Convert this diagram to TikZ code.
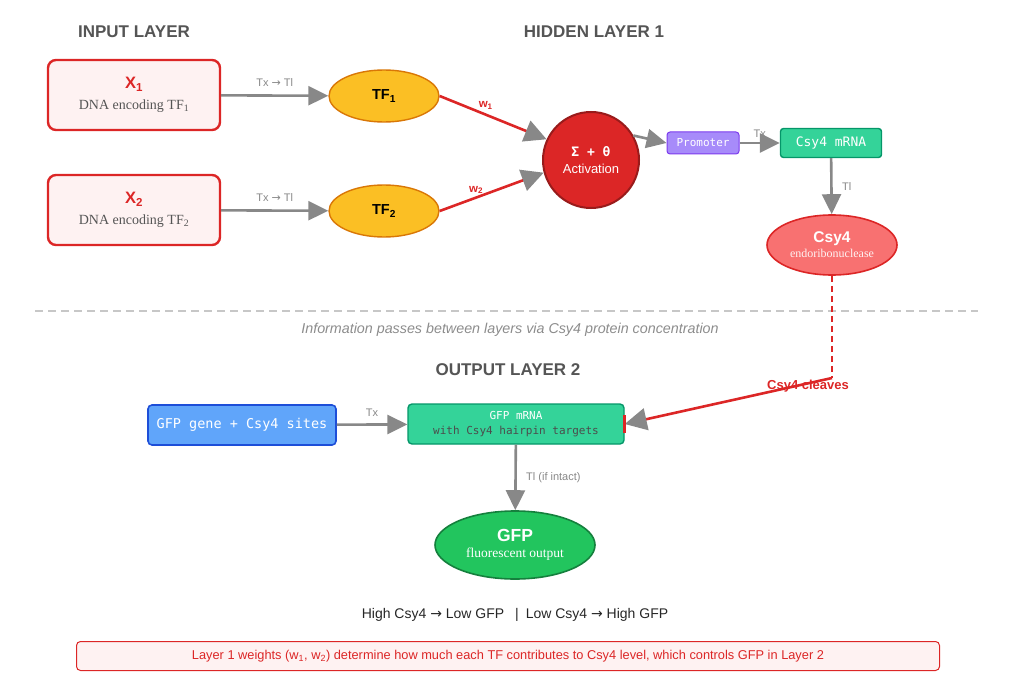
\documentclass[tikz,border=0pt]{standalone}
\usepackage{fontspec}
\setmainfont{Liberation Serif}
\setsansfont{Liberation Sans}
\setmonofont{DejaVu Sans Mono}
\newfontfamily\symf{DejaVu Sans}
\usetikzlibrary{arrows.meta,shapes.geometric}
\definecolor{rd}{HTML}{DC2626}
\definecolor{dr}{HTML}{991B1B}
\definecolor{pk}{HTML}{FEF2F2}
\definecolor{yl}{HTML}{FBBF24}
\definecolor{og}{HTML}{D97706}
\definecolor{pu}{HTML}{A78BFA}
\definecolor{pud}{HTML}{7C3AED}
\definecolor{gr}{HTML}{34D399}
\definecolor{grd}{HTML}{059669}
\definecolor{lr}{HTML}{F87171}
\definecolor{bl}{HTML}{60A5FA}
\definecolor{bld}{HTML}{1D4ED8}
\definecolor{gg}{HTML}{22C55E}
\definecolor{ggd}{HTML}{15803D}
\definecolor{ar}{HTML}{888888}
\definecolor{tx}{HTML}{555555}
\begin{document}
\begin{tikzpicture}[x=1pt,y=-1pt,
 inbox/.style={draw=rd,line width=2.4pt,fill=pk,rounded corners=8pt,minimum width=172pt,minimum height=70pt,align=center,font=\fontsize{14}{21}\selectfont\color{tx}},
 tf/.style={ellipse,draw=og,line width=1.4pt,fill=yl,minimum width=110pt,minimum height=52pt,font=\sffamily\bfseries\fontsize{14.5}{16}\selectfont},
 arr/.style={draw=ar,line width=2.6pt,-{Triangle[length=20pt,width=19pt]}},
 warr/.style={draw=rd,line width=2.6pt,-{Triangle[length=22pt,width=22pt,color=ar]}},
 lab/.style={font=\sffamily\fontsize{11}{12}\selectfont,text=ar},
 ttl/.style={font=\sffamily\bfseries\fontsize{17}{19}\selectfont,text=tx}]
\useasboundingbox (0,0) rectangle (1024,687);
\node[ttl] (t1) at (134,32) {INPUT LAYER};
\node[ttl] (t2) at (594,32) {HIDDEN LAYER 1};
\node[inbox] (x1) at (134,95) {{\sffamily\bfseries\color{rd}\fontsize{16.5}{18}\selectfont X\textsubscript{1}}\\DNA encoding TF\textsubscript{1}};
\node[inbox] (x2) at (134,210) {{\sffamily\bfseries\color{rd}\fontsize{16.5}{18}\selectfont X\textsubscript{2}}\\DNA encoding TF\textsubscript{2}};
\node[tf] (tf1) at (384,96) {TF\textsubscript{1}};
\node[tf] (tf2) at (384,211) {TF\textsubscript{2}};
\node[circle,draw=dr,line width=2pt,fill=rd,minimum size=96pt,align=center,text=white] (act) at (591,160) {{\ttfamily\bfseries\fontsize{13}{14}\selectfont Σ + θ}\\[5pt]{\sffamily\fontsize{13}{14}\selectfont Activation}};
\node[draw=pud,line width=1pt,fill=pu,rounded corners=3pt,minimum width=72pt,minimum height=22pt,text=white,font=\ttfamily\fontsize{11}{12}\selectfont] (pro) at (703,143) {Promoter};
\node[draw=grd,fill=gr,line width=1.4pt,rounded corners=3pt,minimum width=101pt,minimum height=29pt,text=white,font=\ttfamily\fontsize{13}{14}\selectfont] (cm) at (831,143) {Csy4 mRNA};
\node[ellipse,draw=rd,line width=1.6pt,fill=lr,minimum width=130pt,minimum height=60pt,align=center,text=white] (csy) at (832,245) {{\sffamily\bfseries\fontsize{15.5}{17}\selectfont Csy4}\\[3pt]{\fontsize{12}{13}\selectfont\color{pk} endoribonuclease}};
\draw[arr] (x1) -- node[lab,above=4pt]{Tx {\symf →} Tl} (tf1);
\draw[arr] (x2) -- node[lab,above=4pt]{Tx {\symf →} Tl} (tf2);
\draw[warr] (tf1.east) -- node[pos=0.35,above right=-3pt,font=\sffamily\bfseries\fontsize{11.5}{12}\selectfont,text=rd]{w\textsubscript{1}} (act.155);
\draw[warr] (tf2.east) -- node[pos=0.35,above=-1pt,font=\sffamily\bfseries\fontsize{11.5}{12}\selectfont,text=rd]{w\textsubscript{2}} (act.195);
\draw[arr] (act.30) -- (pro.west);
\draw[arr] (pro) -- node[lab,above=1pt]{Tx} (cm);
\draw[arr] (cm) -- node[lab,right=6pt]{Tl} (csy);
\draw[draw=black!22,line width=1.2pt,dash pattern=on 8pt off 5pt] (35,311) -- (978,311);
\node[font=\sffamily\itshape\fontsize{14.3}{15}\selectfont,text=black!45] (info) at (510,330) {Information passes between layers via Csy4 protein concentration};
\node[ttl] (t3) at (508,370) {OUTPUT LAYER 2};
\node[draw=bld,fill=bl,line width=1.6pt,rounded corners=4pt,minimum width=188pt,minimum height=40pt,text=white,font=\ttfamily\fontsize{13.5}{15}\selectfont] (gg) at (242,425) {GFP gene + Csy4 sites};
\node[draw=grd,fill=gr,line width=1.4pt,rounded corners=4pt,minimum width=216pt,minimum height=40pt,align=center,font=\ttfamily\fontsize{11}{15}\selectfont] (gm) at (516,424) {{\color{white}GFP mRNA}\\{\color{black!70}with Csy4 hairpin targets}};
\node[ellipse,draw=ggd,line width=1.6pt,fill=gg,minimum width=160pt,minimum height=68pt,align=center,text=white] (gfp) at (515,545) {{\sffamily\bfseries\fontsize{17.5}{19}\selectfont GFP}\\[4pt]{\fontsize{13.5}{15}\selectfont fluorescent output}};
\draw[arr] (gg) -- node[lab,above=3pt]{Tx} (gm);
\draw[arr] (gm) -- node[lab,right=6pt]{Tl (if intact)} (gfp);
\coordinate (bend) at (832,378);
\draw[draw=rd,line width=2pt,dash pattern=on 6pt off 4pt] (csy.south) -- (bend);
\draw[warr] (bend) -- (gm.east);
\node[font=\sffamily\bfseries\fontsize{13}{14}\selectfont,text=rd] (cl) at (808,386) {Csy4 cleaves};
\draw[draw=rd,line width=2.6pt] ([yshift=-9pt]gm.east) -- ([yshift=9pt]gm.east);
\node[font=\sffamily\fontsize{14}{15}\selectfont,text=black!85] (rule) at (515,615) {High Csy4 {\symf →} Low GFP \enspace|\enspace Low Csy4 {\symf →} High GFP};
\node[draw=rd,line width=1pt,fill=pk,rounded corners=4pt,minimum width=863pt,minimum height=29pt,text=rd,font=\sffamily\fontsize{12.8}{14}\selectfont] (note) at (508,656) {Layer 1 weights (w\textsubscript{1}, w\textsubscript{2}) determine how much each TF contributes to Csy4 level, which controls GFP in Layer 2};
\end{tikzpicture}
\end{document}
